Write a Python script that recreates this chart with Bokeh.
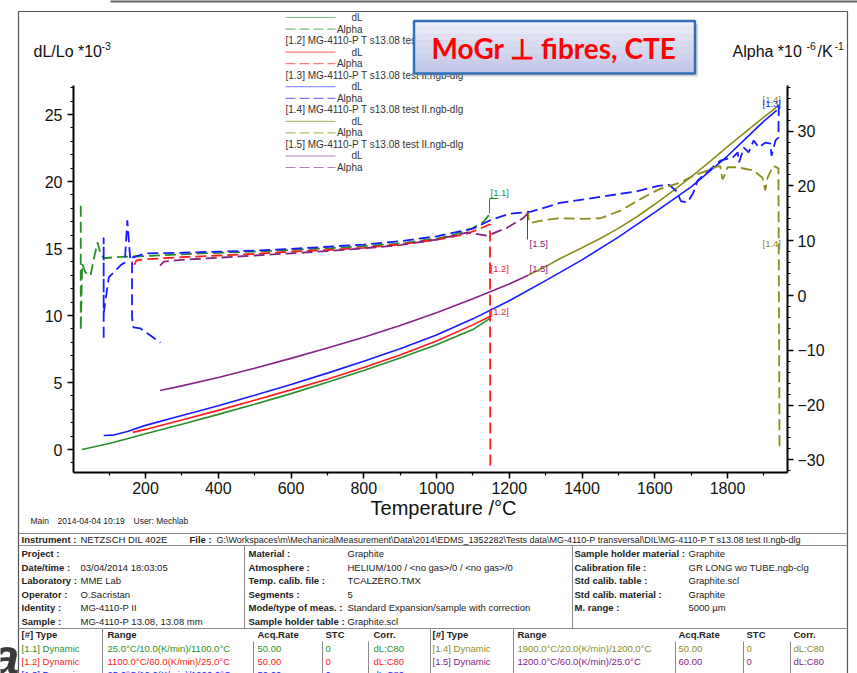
from bokeh.plotting import figure
from bokeh.models import Range1d, LinearAxis, SingleIntervalTicker
from bokeh.core.properties import value
from bokeh.embed import file_html
from bokeh.resources import INLINE

NaN = float("nan")

# ---------------- data ----------------
# [1.1] heating 25 -> 1100 C (green)
T_dl_11 = [25, 60, 100, 150, 200, 300, 400, 500, 600, 700, 800, 900, 1000, 1100, 1148]
dl_11 = [0.0, 0.2, 0.45, 0.8, 1.17, 1.88, 2.62, 3.38, 4.17, 5.02, 5.9, 6.82, 7.82, 8.95, 9.8]
T_a_11 = [22, 22, 26, 35, 49, 57, 68, 76, 85, 120, 200, 300, 400, 500, 600, 700, 800, 900, 1000, 1050, 1100, 1130, 1148]
a_11 = [16.4, -6.4, 5.8, 4.2, 3.6, 6.4, 9.7, 7.7, 6.8, 7.0, 7.2, 7.5, 7.8, 8.0, 8.3, 8.6, 9.0, 9.5, 10.4, 11.1, 12.3, 13.5, 15.0]

# [1.2] cooling 1100 -> 25 C (red)
T_dl_12 = [1148, 1100, 1000, 900, 800, 700, 600, 500, 400, 300, 200, 165]
dl_12 = [9.95, 9.3, 8.1, 7.05, 6.12, 5.25, 4.45, 3.68, 2.92, 2.2, 1.5, 1.28]
T_a_12 = [1148, 1147, 1120, 1080, 1010, 900, 800, 700, 600, 500, 400, 300, 200, 175, 168, 163]
a_12 = [-31.0, 13.0, 12.2, 11.2, 10.3, 9.3, 8.7, 8.3, 8.0, 7.6, 7.3, 7.0, 6.6, 6.4, 5.4, 6.2]

# [1.3] heating 25 -> 1900 C (blue)
T_dl_13 = [85, 110, 150, 200, 300, 400, 500, 600, 700, 800, 900, 1000, 1100, 1200, 1300, 1400, 1500, 1600, 1700, 1800, 1900, 1935]
dl_13 = [1.04, 1.07, 1.35, 1.8, 2.53, 3.27, 4.05, 4.85, 5.7, 6.58, 7.52, 8.55, 9.75, 11.1, 12.6, 14.15, 15.85, 17.7, 19.6, 21.9, 24.5, 25.3]
T_a_13 = [85, 85, 85, 99, 118, 133, 143, 150, 158, 163, 163, 167, 186, 205, 241, NaN,
          163, 200, 300, 400, 500, 600, 700, 800, 900, 1000, 1100, 1150, 1200, 1260, 1340, 1450,
          1550, 1610, 1640, 1660, 1672, 1690, 1705, 1718, 1735, 1780, 1815, 1828, 1832, 1845,
          1858, 1872, 1886, 1904, 1918, 1921, 1932, 1940, 1941]
a_13 = [-7.7, 10.6, -3.3, 3.3, 4.6, 5.6, 6.0, 13.7, 6.6, 6.4, -4.0, -5.8, -6.0, -6.9, -8.6, NaN,
        6.9, 7.7, 7.8, 8.0, 8.2, 8.5, 8.9, 9.3, 9.9, 10.8, 12.2, 13.8, 14.9, 15.3, 16.9, 18.0,
        19.0, 20.0, 20.2, 19.0, 17.2, 17.0, 18.6, 21.0, 22.0, 24.6, 25.2, 26.1, 24.3, 27.0,
        26.1, 28.3, 27.0, 27.9, 27.7, 25.5, 28.3, 28.8, 34.7]

# [1.4] cooling 1900 -> 1200 C (olive)
T_dl_14 = [1942, 1900, 1850, 1800, 1750, 1700, 1650, 1600, 1550, 1500, 1450, 1400, 1340, 1300, 1252]
dl_14 = [25.7, 24.8, 23.7, 22.6, 21.45, 20.35, 19.3, 18.3, 17.35, 16.5, 15.75, 15.05, 14.25, 13.65, 13.0]
T_a_14 = [1943, 1940, 1926, 1910, 1904, 1896, 1872, 1827, 1800, 1790, 1786, 1780, 1770, 1745, 1707,
          1671, 1616, 1569, 1506, 1451, 1400, 1341, 1300, 1262, 1254, 1252]
a_14 = [-27.5, 23.2, 23.7, 21.5, 19.2, 21.5, 22.8, 23.4, 23.4, 21.6, 21.2, 23.6, 23.5, 22.8, 21.9,
        20.6, 19.5, 17.9, 15.5, 14.1, 14.0, 14.1, 13.8, 13.3, 13.4, 15.1]

# [1.5] cooling 1200 -> 25 C (purple)
T_dl_15 = [1252, 1200, 1100, 1000, 900, 800, 700, 600, 500, 400, 300, 240]
dl_15 = [13.0, 12.35, 11.25, 10.2, 9.25, 8.38, 7.58, 6.8, 6.07, 5.38, 4.75, 4.4]
T_a_15 = [1252, 1240, 1195, 1140, 1085, 1000, 900, 800, 700, 600, 500, 400, 300, 250, 241, 236]
a_15 = [15.1, 14.2, 12.4, 10.9, 11.5, 10.2, 9.2, 8.6, 8.1, 7.7, 7.3, 6.9, 6.5, 6.2, 5.5, 6.1]

file_names = ["[1.1] MG-4110-P T s13.08 test II.ngb-dlg", "[1.2] MG-4110-P T s13.08 test II.ngb-dlg",
              "[1.3] MG-4110-P T s13.08 test II.ngb-dlg", "[1.4] MG-4110-P T s13.08 test II.ngb-dlg",
              "[1.5] MG-4110-P T s13.08 test II.ngb-dlg"]

seg_ids = ["[1.1] Dynamic", "[1.2] Dynamic", "[1.3] Dynamic", "[1.4] Dynamic", "[1.5] Dynamic"]
seg_ranges = ["25.0°C/10.0(K/min)/1100.0°C", "1100.0°C/60.0(K/min)/25.0°C", "25.0°C/10.0(K/min)/1900.0°C",
              "1900.0°C/20.0(K/min)/1200.0°C", "1200.0°C/60.0(K/min)/25.0°C"]
seg_acq = ["50.00", "50.00", "50.00", "50.00", "60.00"]
seg_stc = ["0", "0", "0", "0", "0"]
seg_corr = ["dL:C80", "dL:C80", "dL:C80", "dL:C80", "dL:C80"]

info_left = [("Project :", ""), ("Date/time :", "03/04/2014 18:03:05"), ("Laboratory :", "MME Lab"),
             ("Operator :", "O.Sacristan"), ("Identity :", "MG-4110-P II"), ("Sample :", "MG-4110-P 13.08, 13.08 mm")]
info_mid = [("Material :", "Graphite"), ("Atmosphere :", "HELIUM/100 / <no gas>/0 / <no gas>/0"),
            ("Temp. calib. file :", "TCALZERO.TMX"), ("Segments :", "5"),
            ("Mode/type of meas. :", "Standard Expansion/sample with correction"),
            ("Sample holder table :", "Graphite.scl")]
info_right = [("Sample holder material :", "Graphite"), ("Calibration file :", "GR LONG wo TUBE.ngb-clg"),
              ("Std calib. table :", "Graphite.scl"), ("Std calib. material :", "Graphite"),
              ("M. range :", "5000 µm")]
file_path = "G:\\Workspaces\\m\\MechanicalMeasurement\\Data\\2014\\EDMS_1352282\\Tests data\\MG-4110-P transversal\\DIL\\MG-4110-P T s13.08 test II.ngb-dlg"

# ---------------- styles / layout ----------------
GREEN, RED, BLUE, OLIVE, PURPLE = "#2a8f2a", "#ff1a1a", "#1a1aff", "#8c8c1e", "#862486"
COLORS = [GREEN, RED, BLUE, OLIVE, PURPLE]
FONT = "Liberation Sans"
DASH = "11 5"
TFS = "9.5px"   # table font size

W, H = 857, 673
AX_L, AX_R, AX_B, AX_T = 73, 787, 472, 85   # axis positions in page pixels


def t_of(px):
    return (px - 72.25) / 0.36375


def dl_of(py):
    return (449.0 - py) / 13.4


def a_of(py):
    return (295.0 - py) / 5.48


p = figure(width=W, height=H, x_range=Range1d(t_of(0), t_of(W)), y_range=Range1d(dl_of(H), dl_of(0)),
           output_backend="svg", toolbar_location=None, min_border=0,
           min_border_left=0, min_border_right=0, min_border_top=0, min_border_bottom=0)
p.extra_y_ranges = {"alpha": Range1d(a_of(H), a_of(0))}
p.xgrid.visible = False
p.ygrid.visible = False
p.outline_line_color = None
p.background_fill_color = "white"
p.border_fill_color = "white"


def style_axis(ax, standoff):
    ax.axis_line_width = 2
    ax.axis_line_color = "black"
    ax.major_tick_line_width = 1.5
    ax.minor_tick_line_width = 1.2
    ax.major_tick_line_color = "black"
    ax.minor_tick_line_color = "black"
    ax.major_tick_out = 6
    ax.major_tick_in = 0
    ax.minor_tick_out = 3
    ax.minor_tick_in = 0
    ax.major_label_text_font = FONT
    ax.major_label_text_font_size = "16px"
    ax.major_label_text_color = "#111111"
    ax.major_label_standoff = standoff


xa = p.xaxis[0]
xa.ticker = SingleIntervalTicker(interval=200, num_minor_ticks=2)
xa.bounds = (t_of(AX_L), t_of(AX_R))
xa.fixed_location = dl_of(AX_B)
style_axis(xa, 3)
ya = p.yaxis[0]
ya.ticker = SingleIntervalTicker(interval=5, num_minor_ticks=5)
ya.bounds = (dl_of(AX_B), dl_of(AX_T))
ya.fixed_location = t_of(AX_L)
style_axis(ya, 5)
ra = LinearAxis(y_range_name="alpha", ticker=SingleIntervalTicker(interval=10, num_minor_ticks=5),
                bounds=(a_of(AX_B), a_of(AX_T)), fixed_location=t_of(AX_R))
style_axis(ra, 4)
p.add_layout(ra, "right")


def ptext(px, py, s, color="#222222", size="10px", align="left", baseline="middle", style="normal", font=FONT):
    p.text(x=[t_of(px)], y=[dl_of(py)], text=[s], text_color=color, text_font=value(font),
           text_font_size=size, text_align=align, text_baseline=baseline, text_font_style=style)


def pseg(px0, py0, px1, py1, color="#8a8a8a", width=1.0, dash="solid", alpha=1.0):
    p.segment(x0=[t_of(px0)], y0=[dl_of(py0)], x1=[t_of(px1)], y1=[dl_of(py1)],
              line_color=color, line_width=width, line_dash=dash, line_alpha=alpha)


def pbox(pl, pt, pr, pb, fill, line=None, lw=1.0, alpha=1.0):
    p.quad(left=[t_of(pl)], right=[t_of(pr)], top=[dl_of(pt)], bottom=[dl_of(pb)],
           fill_color=fill, fill_alpha=alpha, line_color=line, line_width=lw)


# ---------------- curves ----------------
dl_sets = [(T_dl_11, dl_11), (T_dl_12, dl_12), (T_dl_13, dl_13), (T_dl_14, dl_14), (T_dl_15, dl_15)]
a_sets = [(T_a_11, a_11), (T_a_12, a_12), (T_a_13, a_13), (T_a_14, a_14), (T_a_15, a_15)]
for (tx, ty), c in zip(dl_sets, COLORS):
    p.line(tx, ty, line_color=c, line_width=1.6)
for (tx, ty), c in zip(a_sets, COLORS):
    p.line(tx, ty, y_range_name="alpha", line_color=c, line_width=1.8, line_dash=DASH)

# segment markers
ptext(490, 192, "[1.1]", GREEN, "9.5px")
pseg(489, 213, 489, 198, GREEN)
pseg(489, 198, 498, 198, GREEN)
ptext(490, 268, "[1.2]", RED, "9.5px")
ptext(490, 311, "[1.2]", RED, "9.5px")
ptext(529, 243, "[1.5]", PURPLE, "9.5px")
pseg(527, 212, 527, 239, PURPLE)
ptext(529, 268, "[1.5]", PURPLE, "9.5px")
ptext(762, 243, "[1.4]", OLIVE, "9.5px")
ptext(762, 99, "[1.4]", OLIVE, "9.5px")
ptext(762, 103, "[1.3]", BLUE, "9.5px")

# legend
step = 11.54
for i, (c, name) in enumerate(zip(COLORS, file_names)):
    yh = 17 + step * (3 * i - 1)
    yd = 17 + step * (3 * i)
    ya_ = 17 + step * (3 * i + 1)
    ptext(285, yh, name, "#333333", "10px")
    pseg(285, yd, 335, yd, c, 1.2, "solid", 0.6)
    ptext(362, yd, "dL", "#333333", "10px", align="right")
    pseg(285, ya_, 335, ya_, c, 1.2, "10 4", 0.6)
    ptext(362, ya_, "Alpha", "#333333", "10px", align="right")

# mask above the report frame, grey strip, page frame
pbox(-5, -5, 862, 10.5, "white")
pbox(110, -5, 862, 2, "#666666")
pseg(18, 11, 847, 11, "#555555", 1.2)
pseg(18, 11, 18, 680, "#555555", 1.2)
pseg(847, 11, 847, 680, "#555555", 1.2)

# title box
pbox(416.5, 23.5, 697.5, 76, "#888888", alpha=0.35)
nb = 8
top_c = (234, 236, 248)
bot_c = (194, 199, 232)
for k in range(nb):
    f = k / (nb - 1)
    col = "#%02x%02x%02x" % tuple(int(round(top_c[j] + (bot_c[j] - top_c[j]) * f)) for j in range(3))
    pbox(413.5, 20.5 + 52.5 * k / nb, 694.5, 20.5 + 52.5 * (k + 1) / nb, col)
p.quad(left=[t_of(413.5)], right=[t_of(694.5)], top=[dl_of(20.5)], bottom=[dl_of(73)],
       fill_color=None, line_color="#2f70b8", line_width=2.5)
ptext(553.5, 47.5, "MoGr ⊥ fibres, CTE", "#ff0000", "28px", align="center", baseline="middle",
      style="bold", font="Lato")

# axis titles
ptext(33, 51, "dL/Lo *10", "#111111", "16px")
ptext(101, 45, "-3", "#111111", "10.5px")
ptext(732, 51, "Alpha *10", "#111111", "16px")
ptext(806, 45, "-6", "#111111", "10.5px")
ptext(817, 51, "/K", "#111111", "16px")
ptext(834, 45, "-1", "#111111", "10.5px")
ptext(443, 507, "Temperature /°C", "#111111", "20px", align="center")

# ---------------- bottom info table ----------------
for yy in (533, 545, 628):
    pseg(18, yy, 847, yy)
for xx, y_a, y_b in [(244, 545, 628), (572, 545, 628), (102, 628, 673), (253, 641, 673), (322, 641, 673),
                     (368, 641, 673), (430, 628, 673), (513, 628, 673), (675, 641, 673), (743, 641, 673),
                     (790, 641, 673)]:
    pseg(xx, y_a, xx, y_b)

ptext(30, 520, "Main", size="8.5px")
ptext(57, 520, "2014-04-04 10:19", size="8.5px")
ptext(133, 520, "User: Mechlab", size="8.5px")

ptext(21, 539, "Instrument :", style="bold", size=TFS)
ptext(80, 539, "NETZSCH DIL 402E", size=TFS)
ptext(189, 539, "File :", style="bold", size=TFS)
ptext(216, 539, file_path, size="9px")

row_y = [553, 567, 580, 594, 607, 621]
for yy, (lab, val) in zip(row_y, info_left):
    ptext(21, yy, lab, style="bold", size=TFS)
    ptext(80, yy, val, size=TFS)
for yy, (lab, val) in zip(row_y, info_mid):
    ptext(248, yy, lab, style="bold", size=TFS)
    ptext(347, yy, val, size=TFS)
for yy, (lab, val) in zip(row_y, info_right):
    ptext(574, yy, lab, style="bold", size=TFS)
    ptext(688, yy, val, size=TFS)

heads = ["[#] Type", "Range", "Acq.Rate", "STC", "Corr."]
cols_l = [21, 107, 257, 325, 373]
cols_r = [432, 517, 678, 746, 793]
for h, xl, xr in zip(heads, cols_l, cols_r):
    ptext(xl, 634, h, style="bold", size=TFS)
    ptext(xr, 634, h, style="bold", size=TFS)

seg_pos = [(cols_l, 648), (cols_l, 661), (cols_l, 674), (cols_r, 648), (cols_r, 661)]
for i, (cols, yy) in enumerate(seg_pos):
    vals = [seg_ids[i], seg_ranges[i], seg_acq[i], seg_stc[i], seg_corr[i]]
    for xx, v in zip(cols, vals):
        ptext(xx, yy, v, color=COLORS[i], size=TFS)

pbox(-5, 643, 14, 680, "white")
ptext(-9, 656, "a", color="#3a3a3a", size="50px", style="bold italic", baseline="middle")

open("out.html", "w").write(file_html(p, INLINE))
